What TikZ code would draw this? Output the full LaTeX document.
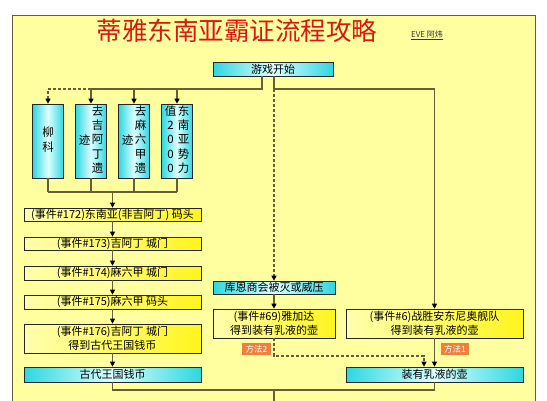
\documentclass[tikz,border=0pt]{standalone}
\usepackage{fontspec}
\setmainfont{Noto Sans CJK SC}
\usetikzlibrary{arrows.meta}
\definecolor{panelbg}{RGB}{255,255,160}
\definecolor{panelline}{RGB}{95,95,70}
\definecolor{wirecol}{RGB}{100,95,55}
\definecolor{cyanedge}{RGB}{45,215,225}
\definecolor{cyanmid}{RGB}{220,255,255}
\definecolor{yelbright}{RGB}{255,245,30}
\definecolor{yelpale}{RGB}{255,255,175}
\definecolor{tagorange}{RGB}{238,128,60}
\definecolor{titlered}{RGB}{215,25,20}

\begin{document}
\begin{tikzpicture}[x=1pt,y=-1pt,
  cyanbox/.style={draw=black!85,line width=0.6pt,left color=cyanedge,right color=cyanedge,middle color=cyanmid,inner sep=0pt,font=\fontsize{11}{13}\selectfont},
  yelbox/.style={draw=black!85,line width=0.6pt,left color=yelpale,right color=yelbright,inner sep=0pt,align=center,font=\fontsize{11}{13.5}\selectfont},
  colbox/.style={cyanbox,minimum width=31pt,minimum height=74pt,font=\fontsize{11.5}{14.3}\selectfont},
  tagbox/.style={fill=tagorange,text=white,inner sep=0pt,minimum height=12pt,font=\fontsize{8.5}{9}\selectfont},
  wire/.style={draw=wirecol,line width=1.1pt},
  flow/.style={wire,-{Triangle[length=5pt,width=5pt,color=black]}},
  dashwire/.style={dash pattern=on 3pt off 2pt}]
\clip (0,0) rectangle (547,400);
\fill[white] (0,0) rectangle (547,400);
\draw[panelline,fill=panelbg,line width=0.8pt] (12,15) rectangle (535,420);

\node[text=titlered,font=\fontsize{25.5}{27}\selectfont] (title) at (237,31) {蒂雅东南亚霸证流程攻略};
\node[text=black!80,font=\fontsize{8}{9}\selectfont] (author) at (427,35) {\underline{EVE 阿炜}};

\node[cyanbox,minimum width=120pt,minimum height=14pt] (start) at (273,69) {游戏开始};

\node[colbox] (col1) at (48,141) {\begin{tabular}[c]{@{}c@{}}柳\\科\end{tabular}};
\node[colbox] (col2) at (91,141) {迹\hspace{1.5pt}\begin{tabular}[c]{@{}c@{}}去\\吉\\阿\\丁\\遗\end{tabular}};
\node[colbox] (col3) at (134,141) {迹\hspace{1.5pt}\begin{tabular}[c]{@{}c@{}}去\\麻\\六\\甲\\遗\end{tabular}};
\node[colbox] (col4) at (177,141) {\begin{tabular}[c]{@{}c@{}}值\\2\\0\\0\\0\end{tabular}\hspace{1.5pt}\begin{tabular}[c]{@{}c@{}}东\\南\\亚\\势\\力\end{tabular}};

\node[yelbox,minimum width=177pt,minimum height=13pt] (ev172) at (112.5,214.5) {(事件\#172)东南亚(非吉阿丁) 码头};
\node[yelbox,minimum width=177pt,minimum height=13pt] (ev173) at (112.5,243.5) {(事件\#173)吉阿丁 城门};
\node[yelbox,minimum width=177pt,minimum height=14pt] (ev174) at (112.5,273) {(事件\#174)麻六甲 城门};
\node[yelbox,minimum width=177pt,minimum height=14pt] (ev175) at (112.5,302) {(事件\#175)麻六甲 码头};
\node[yelbox,minimum width=177pt,minimum height=29pt] (ev176) at (112.5,338.5) {(事件\#176)吉阿丁 城门\\得到古代王国钱币};
\node[cyanbox,minimum width=177pt,minimum height=15pt] (coin) at (112.5,374.5) {古代王国钱币};

\node[cyanbox,minimum width=122pt,minimum height=13pt] (kuen) at (274,287.5) {库恩商会被灭或威压};
\node[yelbox,minimum width=122pt,minimum height=29pt] (ev69) at (274,323.5) {(事件\#69)雅加达\\得到装有乳液的壶};
\node[yelbox,minimum width=177pt,minimum height=29pt] (ev6) at (434.5,323.5) {(事件\#6)战胜安东尼奥舰队\\得到装有乳液的壶};
\node[cyanbox,minimum width=177pt,minimum height=15pt] (jar) at (434.5,374.5) {装有乳液的壶};

\node[tagbox,minimum width=29pt] (tag2) at (256.5,349) {方法2};
\node[tagbox,minimum width=28pt] (tag1) at (455,349) {方法1};

\coordinate (splitL) at (262,89);
\coordinate (splitR) at (274,89);
\coordinate (joinL) at (112.5,192);
\coordinate (mergeD) at (424,356);
\coordinate (joinB) at (274,390);
\coordinate (exitB) at (274,410);

\draw[wire] (start.south -| splitL) -- (splitL) -- (splitL -| col2.north);
\foreach \c in {col2,col3,col4}
  \draw[flow] (splitL -| \c.north) -- (\c.north);
\draw[flow,dashwire] (splitL -| col2.north) -| (col1.north);
\foreach \c in {col1,col2,col3,col4}
  \draw[wire] (\c.south) -- (\c.south |- joinL);
\draw[wire] (col1.south |- joinL) -- (col4.south |- joinL);
\draw[flow] (joinL) -- (ev172.north);
\draw[flow] (ev172.south) -- (ev173.north);
\draw[flow] (ev173.south) -- (ev174.north);
\draw[flow] (ev174.south) -- (ev175.north);
\draw[flow] (ev175.south) -- (ev176.north);
\draw[flow] (ev176.south) -- (coin.north);

\draw[flow] (start.south -| splitR) -- (splitR) -| (ev6.north);
\draw[flow,dashwire] (splitR) -- (kuen.north);
\draw[flow] (kuen.south) -- (ev69.north);
\draw[flow,dashwire] (ev69.south) |- (mergeD) -- (mergeD |- jar.north);
\draw[flow] (ev6.south) -- (jar.north);

\draw[wire] (coin.south) |- (joinB);
\draw[wire] (jar.south) |- (joinB);
\draw[wire] (joinB) -- (exitB);
\end{tikzpicture}
\end{document}
